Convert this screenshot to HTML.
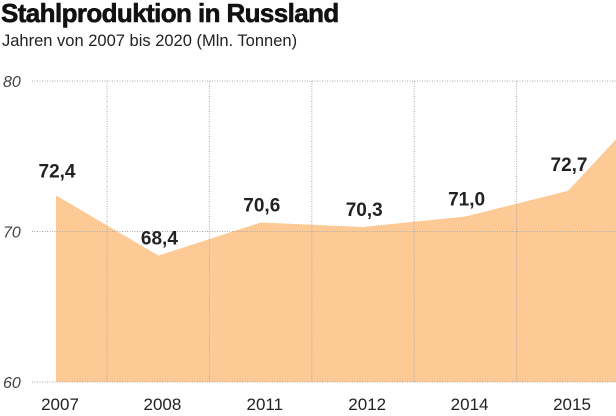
<!DOCTYPE html>
<html><head><meta charset="utf-8"><style>
body{margin:0;background:#fff;width:616px;height:411px;overflow:hidden;font-family:"Liberation Sans",sans-serif}
</style></head><body>
<svg width="616" height="411" xmlns="http://www.w3.org/2000/svg">
<text x="1" y="22" font-size="26" font-weight="bold" fill="#111" letter-spacing="-0.6" stroke="#111" stroke-width="0.6">Stahlproduktion in Russland</text>
<text x="2" y="46" font-size="16.5" fill="#222">Jahren von 2007 bis 2020  (Mln. Tonnen)</text>
<g id="area"></g><g id="grid"></g><g id="labels"></g>
</svg>
<script>
const categories=["2007","2008","2011","2012","2014","2015","2020"];
const values=[72.4,68.4,70.6,70.3,71.0,72.7,80.0];
const valueLabels=["72,4","68,4","70,6","70,3","71,0","72,7",""];
const yTicks=[60,70,80];
const NS="http://www.w3.org/2000/svg";
const y=v=>382-(v-60)*15.05;
const x=i=>56+i*102.4;
function mk(t,a,p){const e=document.createElementNS(NS,t);for(const k in a)e.setAttribute(k,a[k]);p.appendChild(e);return e;}
const grid=document.getElementById('grid'),area=document.getElementById('area'),labels=document.getElementById('labels');
yTicks.forEach(t=>{
 const l=mk('line',{x1:32,x2:616,y1:y(t),y2:y(t),stroke:'#aaa','stroke-dasharray':'1,1.5','stroke-width':1},grid);
 
 
 const tx=mk('text',{x:3,y:y(t)+6,'font-size':16,'font-style':'italic',fill:'#444'},grid);
 tx.textContent=t;
 
 
});
let d='M'+x(0)+','+y(60);
values.forEach((v,i)=>{d+=' L'+x(i)+','+y(v);});
d+=' L'+x(values.length-1)+','+y(60)+' Z';
const p=mk('path',{d:d,fill:'#fdc995'},area);


for(let i=0;i<categories.length-2;i++){
 const l=mk('line',{x1:x(i)+51,x2:x(i)+51,y1:y(80),y2:y(60),stroke:'#aaa','stroke-dasharray':'1,1.5','stroke-width':1},grid);
 
 
}
categories.forEach((c,i)=>{
 if(i>=6)return;
 const t=mk('text',{x:x(i)+4,y:410,'font-size':17,'text-anchor':'middle',fill:'#222'},labels);
 t.textContent=c;
 
 
 const v=mk('text',{x:x(i)+1,y:y(values[i])-(i==0?18:i==5?20:11),'font-size':19,'font-weight':'bold','text-anchor':'middle',fill:'#222'},labels);
 v.textContent=valueLabels[i];
 
 
});
</script>
</body></html>
